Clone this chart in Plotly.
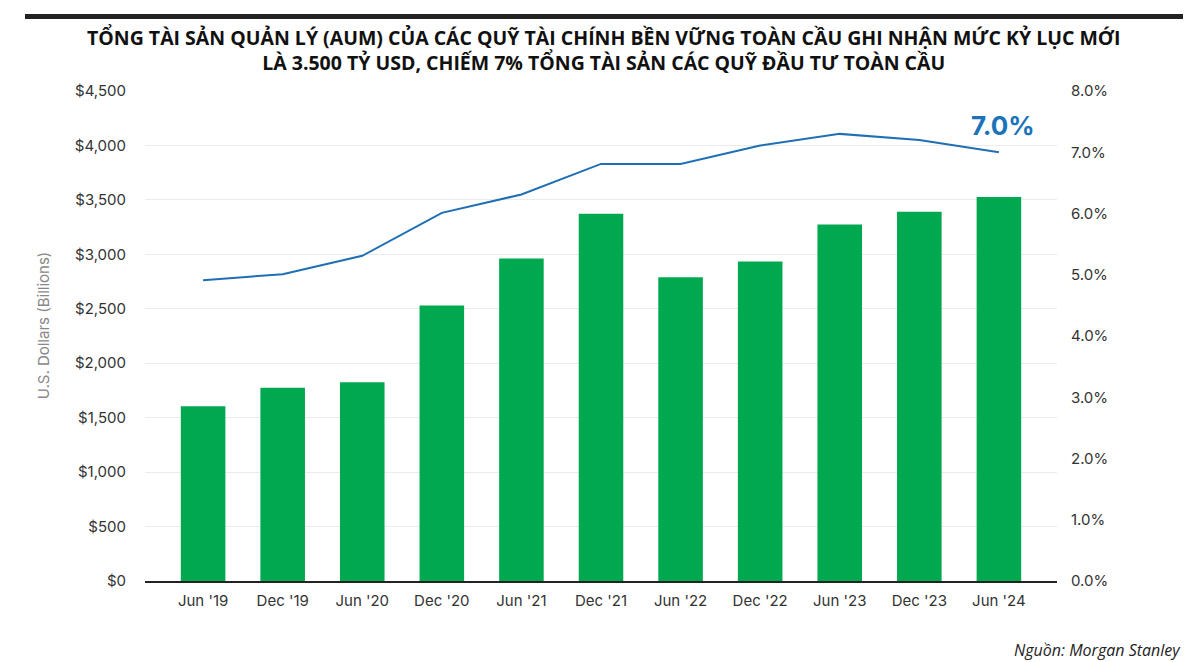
import plotly.graph_objects as go

categories = ["Jun '19", "Dec '19", "Jun '20", "Dec '20", "Jun '21", "Dec '21",
              "Jun '22", "Dec '22", "Jun '23", "Dec '23", "Jun '24"]
aum_billions = [1605, 1775, 1825, 2530, 2962, 3372, 2790, 2935, 3275, 3390, 3526]
share_pct = [4.91, 5.01, 5.31, 6.01, 6.31, 6.81, 6.81, 7.11, 7.30, 7.20, 7.00]
left_ticks = [0, 500, 1000, 1500, 2000, 2500, 3000, 3500, 4000, 4500]
right_ticks = [0, 1, 2, 3, 4, 5, 6, 7, 8]

title_text = ("TỔNG TÀI SẢN QUẢN LÝ (AUM) CỦA CÁC QUỸ TÀI CHÍNH BỀN VỮNG TOÀN CẦU GHI NHẬN MỨC KỶ LỤC MỚI"
              "<br>LÀ 3.500 TỶ USD, CHIẾM 7% TỔNG TÀI SẢN CÁC QUỸ ĐẦU TƯ TOÀN CẦU")
source_text = "Nguồn: Morgan Stanley"
ytitle_text = "U.S. Dollars (Billions)"

tick_font = dict(family="Inter, Open Sans, sans-serif", size=15, color="#333333")

fig = go.Figure()
fig.add_trace(go.Bar(x=categories, y=aum_billions, marker=dict(color="#00a94f", line=dict(width=0)),
                     yaxis="y", showlegend=False, hoverinfo="skip"))
fig.add_trace(go.Scatter(x=categories, y=share_pct, mode="lines", yaxis="y2",
                         line=dict(color="#1f6fb5", width=2), showlegend=False, hoverinfo="skip"))

fig.update_layout(
    width=1200, height=662,
    margin=dict(l=145, r=143, t=91, b=81),
    paper_bgcolor="white", plot_bgcolor="white",
    bargap=0.44,
    xaxis=dict(range=[-0.73, len(categories) - 1 + 0.73], showgrid=False, showline=True,
               linecolor="#222222", linewidth=1.5, tickfont=tick_font, ticks="",
               ticklabelstandoff=5),
    yaxis=dict(range=[0, 4500], tickvals=left_ticks,
               ticktext=["$" + format(v, ",") for v in left_ticks],
               showgrid=True, gridcolor="#ebebeb", gridwidth=1, zeroline=False,
               tickfont=tick_font, ticklabelstandoff=18, showline=False),
    yaxis2=dict(range=[0, 8], tickvals=right_ticks,
                ticktext=[f"{v:.1f}%" for v in right_ticks],
                overlaying="y", side="right", showgrid=False, zeroline=False,
                tickfont=tick_font, ticklabelstandoff=13, showline=False),
)

fig.add_annotation(text=title_text, xref="paper", yref="paper", x=0.503, y=(581 - 50) / 490,
                   xanchor="center", yanchor="middle", showarrow=False, align="center",
                   font=dict(family="Open Sans, sans-serif", size=19.5, color="#111111", weight=700))
fig.add_annotation(text="7.0%", xref="x", yref="y2", x=categories[-1], y=share_pct[-1],
                   xshift=4, yshift=27, showarrow=False,
                   font=dict(family="Inter, Open Sans, sans-serif", size=26, color="#1a72b8", weight=700))
fig.add_annotation(text=ytitle_text, xref="paper", yref="paper", x=(43 - 145) / 912, y=0.522,
                   textangle=-90, showarrow=False, xanchor="center", yanchor="middle",
                   font=dict(family="Inter, Open Sans, sans-serif", size=15, color="#888888"))
fig.add_annotation(text=source_text, xref="paper", yref="paper", x=(1183 - 145) / 912,
                   y=(581 - 650) / 490, xanchor="right", yanchor="middle", showarrow=False,
                   font=dict(family="Open Sans, sans-serif", size=16, color="#222222", style="italic"))
fig.add_shape(type="rect", xref="paper", yref="paper",
              x0=(25 - 145) / 912, x1=(1183 - 145) / 912,
              y0=(581 - 19) / 490, y1=(581 - 14) / 490,
              fillcolor="#222222", line=dict(width=0))

fig.write_html("out.html", config={"displayModeBar": False},
               post_script="document.body.style.margin='0';document.body.style.overflow='hidden';")
